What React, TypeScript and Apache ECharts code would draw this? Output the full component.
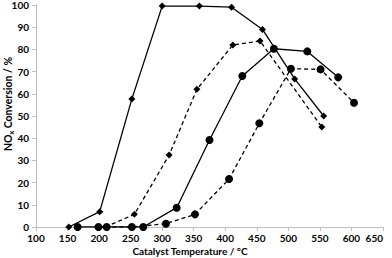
import React, { useEffect, useRef } from "react";
import * as echarts from "echarts";

const solidDiamond: [number, number][] = [
  [152, 0], [201, 6.9], [252, 57.7], [300, 99.5], [359, 99.5], [410, 99], [459, 89], [510, 66.7], [556, 50],
];
const dashedDiamond: [number, number][] = [
  [210, 0], [256, 5.7], [311, 32.4], [355, 62], [412, 82], [455, 83.8], [553, 45],
];
const solidCircle: [number, number][] = [
  [166, 0], [212, 0], [270, 0], [323, 8.7], [375, 39.2], [427, 68], [477, 80.3], [530, 79.1], [579, 67.4],
];
const dashedCircle: [number, number][] = [
  [199, 0], [252, 0], [306, 1.5], [352, 5.7], [406, 21.6], [454, 46.7], [504, 71.3], [551, 71], [604, 56],
];
const xTicks = [100, 150, 200, 250, 300, 350, 400, 450, 500, 550, 600, 650];

const FONT = "Lato";

export default function App() {
  const ref = useRef<HTMLDivElement>(null);
  useEffect(() => {
    if (!ref.current) return;
    const chart = echarts.init(ref.current, undefined, { renderer: "svg" });
    const mk = (data: [number, number][], symbol: string, size: number, dashed: boolean) => ({
      type: "line",
      data,
      symbol,
      symbolSize: size,
      showAllSymbol: true,
      itemStyle: { color: "#000" },
      lineStyle: { color: "#000", width: 1.3, type: dashed ? [4, 3] : "solid" },
    });
    const labelStyle = { fontFamily: FONT, fontWeight: "bold", fontSize: 10, color: "#000" };
    chart.setOption({
      animation: false,
      grid: { left: 36, right: 9, top: 5, bottom: 31, outerBoundsMode: "none", containLabel: false },
      xAxis: {
        type: "value",
        min: xTicks[0],
        max: xTicks[xTicks.length - 1],
        interval: 50,
        name: "Catalyst Temperature / °C",
        nameLocation: "middle",
        nameGap: 19,
        nameMoveOverlap: false,
        nameTextStyle: { ...labelStyle, padding: [0, 39, 0, 0] },
        axisLine: { lineStyle: { color: "#bfbfbf" } },
        axisTick: { show: true, length: 4, lineStyle: { color: "#bfbfbf" } },
        axisLabel: { ...labelStyle, margin: 6, hideOverlap: false, showMinLabel: true, showMaxLabel: true, alignMaxLabel: "right" },
        splitLine: { show: false },
      },
      yAxis: {
        type: "value",
        min: 0,
        max: 100,
        interval: 10,
        name: "{a|NO}{b|x}{a| Conversion / %}",
        nameLocation: "middle",
        nameGap: 22,
        nameMoveOverlap: false,
        nameTextStyle: {
          padding: [0, 0, 0, 24],
          rich: {
            a: { fontFamily: FONT, fontWeight: "bold", fontSize: 10.5, color: "#000", lineHeight: 13 },
            b: { fontFamily: FONT, fontWeight: "bold", fontSize: 7, color: "#000", verticalAlign: "bottom", lineHeight: 9 },
          },
        },
        axisLine: { show: true, lineStyle: { color: "#bfbfbf" } },
        axisTick: { show: true, length: 4, lineStyle: { color: "#bfbfbf" } },
        axisLabel: { ...labelStyle, margin: 7, showMinLabel: true, showMaxLabel: true, hideOverlap: false },
        splitLine: { show: false },
      },
      series: [
        mk(solidDiamond, "diamond", 7, false),
        mk(dashedDiamond, "diamond", 7, true),
        mk(solidCircle, "circle", 8, false),
        mk(dashedCircle, "circle", 8, true),
      ],
    });
    return () => chart.dispose();
  }, []);
  return <div ref={ref} style={{ width: 392, height: 258, position: "absolute", left: 0, top: 0 }} />;
}
